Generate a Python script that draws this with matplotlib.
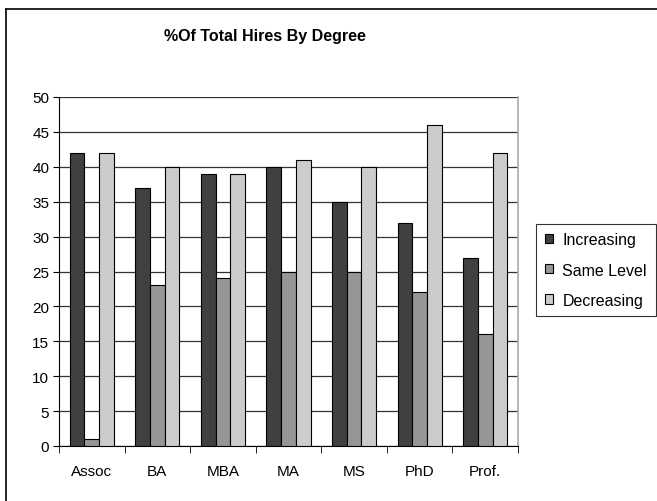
import numpy as np
import matplotlib
matplotlib.use("Agg")
import matplotlib.pyplot as plt
from matplotlib.lines import Line2D

plt.rcParams['font.family'] = ['Liberation Sans', 'DejaVu Sans']

degrees = ['Assoc', 'BA', 'MBA', 'MA', 'MS', 'PhD', 'Prof.']
increasing = [42, 37, 39, 40, 35, 32, 27]
same_level = [1, 23, 24, 25, 25, 22, 16]
decreasing = [42, 40, 39, 41, 40, 46, 42]
series_names = ['Increasing', 'Same Level', 'Decreasing']
colors = ['#404040', '#969696', '#cccccc']

W, H = 657, 502
fig = plt.figure(figsize=(W / 100, H / 100), dpi=100)
# plot area in pixels: x 59..518, y 98..447
ax = fig.add_axes([59 / W, 1 - 447 / H, (518 - 59) / W, (447 - 98) / H])

x = np.arange(len(degrees))
bw = 0.224
for k, vals in enumerate([increasing, same_level, decreasing]):
    ax.bar(x + (k - 1) * bw, vals, width=bw, color=colors[k],
           edgecolor='black', linewidth=0.8, label=series_names[k], zorder=3)

ax.set_xlim(-0.5, len(degrees) - 0.5)
ax.set_ylim(0, 50)
ax.set_yticks(np.arange(0, 51, 5))
ax.yaxis.grid(True, color='#333333', linewidth=0.9, zorder=0)
ax.set_axisbelow(True)

ax.set_xticks(x)
ax.set_xticklabels(degrees, fontsize=11)
ax.tick_params(axis='x', length=0, pad=13)
ax.set_xticks(np.arange(-0.5, len(degrees), 1), minor=True)
ax.tick_params(axis='x', which='minor', length=5, direction='out', color='black')
ax.tick_params(axis='y', length=4, direction='out', labelsize=11, pad=3)

ax.spines['top'].set_visible(False)
ax.spines['right'].set_color('#aaaaaa')
ax.spines['right'].set_linewidth(1.2)
ax.spines['left'].set_color('black')
ax.spines['bottom'].set_color('black')

fig.text(265 / W, 1 - 37 / H, '%Of Total Hires By Degree', ha='center', va='center',
         fontsize=11.5, fontweight='bold',
         family=['Liberation Sans Narrow', 'Liberation Sans', 'DejaVu Sans'])

leg = ax.legend(loc='center left', bbox_to_anchor=(536 / W, 1 - 271 / H),
                bbox_transform=fig.transFigure, fontsize=11.5, frameon=True,
                fancybox=False, edgecolor='black', handlelength=0.5,
                handleheight=0.5, handletextpad=0.6, borderpad=0.55,
                labelspacing=0.95, borderaxespad=0)
leg.get_frame().set_linewidth(0.8)

# outer chart border (only left and top edges visible in frame)
fig.add_artist(Line2D([6 / W, 6 / W], [0, 1 - 10 / H], transform=fig.transFigure,
                      color='black', linewidth=1.2))
fig.add_artist(Line2D([6 / W, 1], [1 - 10 / H, 1 - 10 / H], transform=fig.transFigure,
                      color='black', linewidth=1.2))

fig.savefig('out.png', dpi=100)
